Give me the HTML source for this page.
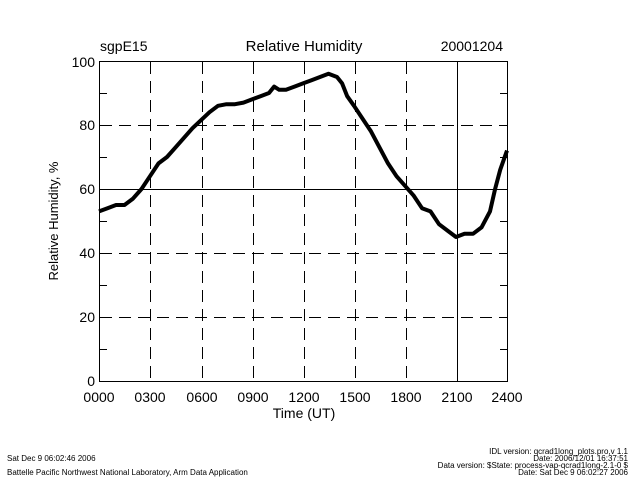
<!DOCTYPE html>
<html><head><style>
html,body{margin:0;padding:0;background:#fff;}
svg{display:block;font-family:"Liberation Sans",sans-serif;}
</style></head><body>
<svg width="640" height="480" viewBox="0 0 640 480" xmlns="http://www.w3.org/2000/svg">
<rect width="640" height="480" fill="#fff"/>
<g stroke="#000" stroke-width="1" fill="none">
<rect x="99.5" y="61.5" width="408" height="320"/>
<g stroke-dasharray="12,7">
<line x1="150.5" y1="62" x2="150.5" y2="381"/>
<line x1="202.5" y1="62" x2="202.5" y2="381"/>
<line x1="253.5" y1="62" x2="253.5" y2="381"/>
<line x1="304.5" y1="62" x2="304.5" y2="381"/>
<line x1="355.5" y1="62" x2="355.5" y2="381"/>
<line x1="406.5" y1="62" x2="406.5" y2="381"/>
<line x1="100" y1="125.5" x2="507" y2="125.5"/>
<line x1="100" y1="253.5" x2="507" y2="253.5"/>
<line x1="100" y1="317.5" x2="507" y2="317.5"/>
</g>
<line x1="457.5" y1="62" x2="457.5" y2="381"/>
<line x1="100" y1="189.5" x2="507" y2="189.5"/>
<g>
<line x1="100" y1="93.5" x2="107" y2="93.5"/><line x1="500" y1="93.5" x2="507" y2="93.5"/>
<line x1="100" y1="157.5" x2="107" y2="157.5"/><line x1="500" y1="157.5" x2="507" y2="157.5"/>
<line x1="100" y1="221.5" x2="107" y2="221.5"/><line x1="500" y1="221.5" x2="507" y2="221.5"/>
<line x1="100" y1="285.5" x2="107" y2="285.5"/><line x1="500" y1="285.5" x2="507" y2="285.5"/>
<line x1="100" y1="349.5" x2="107" y2="349.5"/><line x1="500" y1="349.5" x2="507" y2="349.5"/>
</g>
</g>
<g transform="translate(99,381) scale(17,-3.2)">
<polyline fill="none" stroke="#000" stroke-width="4" vector-effect="non-scaling-stroke" stroke-linejoin="round"
points="0,53 0.5,54 1,55 1.5,55 2,57 2.5,60 3,64 3.5,68 4,70 4.5,73 5,76 5.5,79 6,81.5 6.5,84 7,86 7.5,86.5 8,86.5 8.5,87 9,88 9.5,89 10,90 10.3,92 10.6,91 11,91 11.5,92 12,93 12.5,94 13,95 13.5,96 14,95 14.3,93 14.6,89 15,86 15.5,82 16,78 16.5,73 17,68 17.5,64 18,61 18.5,58 19,54 19.5,53 20,49 20.5,47 21,45 21.5,46 22,46 22.5,48 23,53 23.3,60 23.6,66 24,72"/>
</g>
<g font-size="14" fill="#000">
<text x="100" y="51">sgpE15</text>
<text x="304" y="51" text-anchor="middle" font-size="15">Relative Humidity</text>
<text x="503" y="51" text-anchor="end">20001204</text>
<g text-anchor="end">
<text x="95" y="67">100</text><text x="95" y="130">80</text><text x="95" y="194">60</text>
<text x="95" y="258">40</text><text x="95" y="322">20</text><text x="95" y="386">0</text>
</g>
<g text-anchor="middle">
<text x="99" y="402">0000</text><text x="150" y="402">0300</text><text x="202" y="402">0600</text>
<text x="253" y="402">0900</text><text x="304" y="402">1200</text><text x="355" y="402">1500</text>
<text x="406" y="402">1800</text><text x="457" y="402">2100</text><text x="507" y="402">2400</text>
<text x="304" y="418">Time (UT)</text>
</g>
<text transform="translate(58,221) rotate(-90)" text-anchor="middle" font-size="13">Relative Humidity, %</text>
</g>
<g font-size="8" fill="#000">
<text x="7" y="461">Sat Dec  9 06:02:46 2006</text>
<text x="7" y="475">Battelle Pacific Northwest National Laboratory, Arm Data Application</text>
<g text-anchor="end">
<text x="628" y="454">IDL version: qcrad1long_plots.pro,v 1.1</text>
<text x="628" y="461">Date: 2006/12/01 16:37:51</text>
<text x="628" y="468">Data version: $State: process-vap-qcrad1long-2.1-0 $</text>
<text x="628" y="475">Date: Sat Dec  9 06:02:27 2006</text>
</g>
</g>
</svg>
</body></html>
